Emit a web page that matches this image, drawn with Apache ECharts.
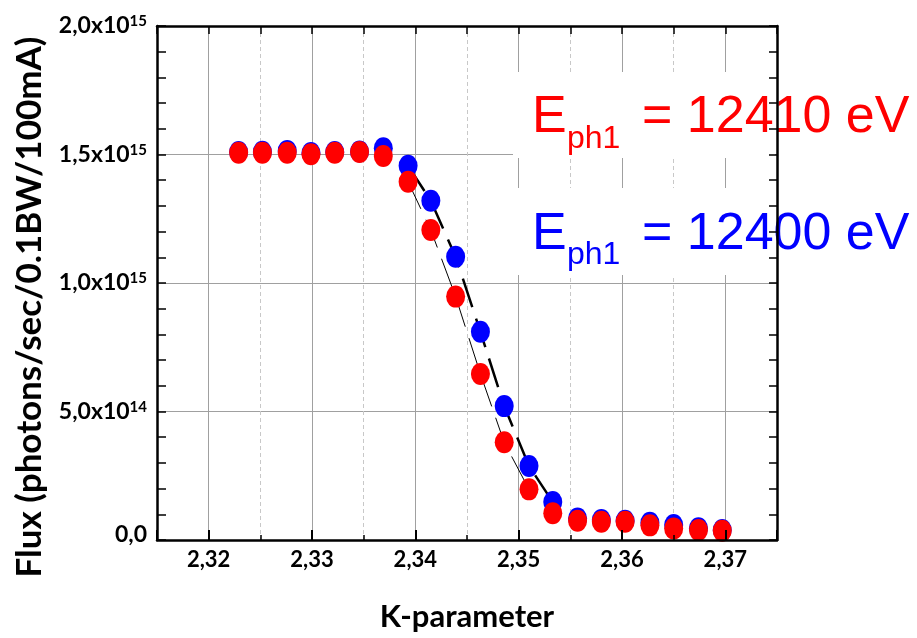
<!DOCTYPE html>
<html>
<head>
<meta charset="utf-8">
<title>Flux vs K-parameter</title>
<script src="https://cdn.jsdelivr.net/npm/echarts@6/dist/echarts.min.js"></script>
<style>
html, body { margin: 0; padding: 0; background: #fff; }
#chart { width: 917px; height: 638px; }
</style>
</head>
<body>
<div id="chart"></div>
<script>
// K-parameter of every measured point
var kParam = [2.3229, 2.3252, 2.3276, 2.3299, 2.3322, 2.3346, 2.3369, 2.3393, 2.3415, 2.3439, 2.3463,
              2.3486, 2.3510, 2.3533, 2.3557, 2.3580, 2.3603, 2.3627, 2.3650, 2.3674, 2.3697];
// E_ph1 = 12410 eV (red)
var fluxRed = [1.507e15, 1.507e15, 1.507e15, 1.501e15, 1.507e15, 1.510e15, 1.494e15, 1.394e15, 1.206e15, 0.947e15, 0.646e15,
               0.380e15, 0.197e15, 0.104e15, 0.075e15, 0.071e15, 0.071e15, 0.057e15, 0.045e15, 0.039e15, 0.036e15];
// E_ph1 = 12400 eV (blue)
var fluxBlue = [1.510e15, 1.511e15, 1.514e15, 1.506e15, 1.510e15, 1.512e15, 1.524e15, 1.456e15, 1.320e15, 1.102e15, 0.810e15,
                0.521e15, 0.288e15, 0.148e15, 0.084e15, 0.078e15, 0.075e15, 0.067e15, 0.058e15, 0.046e15, 0.039e15];
// the dashed guide lines only follow the falling edge
var fitStart = 7, fitEndRed = 12, fitEndBlue = 13;

var xTickValues = [2.32, 2.33, 2.34, 2.35, 2.36, 2.37];
var xTickLabels = ['2,32', '2,33', '2,34', '2,35', '2,36', '2,37'];
var yTickValues = [0, 5e14, 1e15, 1.5e15, 2e15];
var yTickMant = ['0,0', '5,0x10', '1,0x10', '1,5x10', '2,0x10'];
var yTickExp = ['', '14', '15', '15', '15'];

var X_MIN = 2.315, X_MAX = 2.375, Y_MAX = 2e15;
var BOLD = 'Lato';
var CLEAR = 'rgba(0,0,0,0)';

/**
 * zip x / y arrays into [x, y] pairs
 */
function pairs(xs, ys, from, to) {
    var out = [];
    for (var i = from; i <= to; i++) {
        out.push([xs[i], ys[i]]);
    }
    return out;
}

function tickIndex(list, v, eps) {
    for (var i = 0; i < list.length; i++) {
        if (Math.abs(list[i] - v) < eps) return i;
    }
    return -1;
}

var frameLine = { show: true, onZero: false, lineStyle: { color: '#000', width: 2.5 } };

var option = {
    animation: false,
    backgroundColor: '#fff',
    grid: { left: 157, top: 26, right: 140, bottom: 98, outerBoundsMode: 'none' },
    xAxis: [
        { // dashed grid every 0.005 (shown on the odd ones)
            type: 'value', min: X_MIN, max: X_MAX, interval: 0.005, z: 0,
            axisLine: { show: false }, axisTick: { show: false }, axisLabel: { show: false },
            splitLine: { show: true, lineStyle: { color: ['#c8c8c8', CLEAR], type: [4, 3], width: 1 } }
        },
        { // solid grid on the labelled values
            type: 'value', min: X_MIN, max: X_MAX, interval: 0.005, z: 0,
            axisLine: { show: false }, axisTick: { show: false }, axisLabel: { show: false },
            splitLine: { show: true, lineStyle: { color: [CLEAR, '#a0a0a0'], width: 1 } }
        },
        { // bottom frame, short ticks and labels
            type: 'value', position: 'bottom', min: X_MIN, max: X_MAX, interval: 0.005, z: 5,
            axisLine: frameLine,
            axisTick: { show: true, inside: true, length: 5, lineStyle: { color: '#000', width: 1.5 } },
            splitLine: { show: false },
            axisLabel: {
                margin: 9, color: '#000', fontFamily: BOLD, fontWeight: 'bold', fontSize: 22,
                formatter: function (v) {
                    var i = tickIndex(xTickValues, v, 1e-6);
                    return i < 0 ? '' : xTickLabels[i];
                }
            },
            name: 'K-parameter', nameLocation: 'middle', nameGap: 61,
            nameTextStyle: { color: '#000', fontFamily: BOLD, fontWeight: 'bold', fontSize: 31 }
        },
        { // bottom frame, long ticks (auto interval of 0.01)
            type: 'value', position: 'bottom', min: X_MIN, max: X_MAX, z: 5,
            axisLine: { show: false },
            axisTick: { show: true, inside: true, length: 10, lineStyle: { color: '#000', width: 2 } },
            axisLabel: { show: false }, splitLine: { show: false }
        },
        { // top frame
            type: 'value', position: 'top', min: X_MIN, max: X_MAX, interval: 0.005, z: 5,
            axisLine: frameLine,
            axisTick: { show: true, inside: true, length: 8, lineStyle: { color: '#000', width: 1.5 } },
            axisLabel: { show: false }, splitLine: { show: false }
        }
    ],
    yAxis: [
        { // horizontal grid
            type: 'value', min: 0, max: Y_MAX, interval: 5e14, z: 0,
            axisLine: { show: false }, axisTick: { show: false }, axisLabel: { show: false },
            splitLine: { show: true, lineStyle: { color: '#a0a0a0', width: 1 } }
        },
        { // left frame
            type: 'value', position: 'left', min: 0, max: Y_MAX, interval: 1e14, z: 5,
            axisLine: frameLine,
            axisTick: { show: true, inside: true, length: 9, lineStyle: { color: '#000', width: 1.5 } },
            splitLine: { show: false },
            axisLabel: {
                margin: 10, color: '#000',
                formatter: function (v) {
                    var i = tickIndex(yTickValues, v, 1e10);
                    if (i < 0) return '';
                    if (!yTickExp[i]) return '{z|' + yTickMant[i] + '}';
                    return '{m|' + yTickMant[i] + '}{s|' + yTickExp[i] + '}';
                },
                rich: {
                    m: { fontFamily: BOLD, fontWeight: 'bold', fontSize: 23, lineHeight: 24, padding: [5, 0, 5, 0], color: '#000' },
                    z: { fontFamily: BOLD, fontWeight: 'bold', fontSize: 23, lineHeight: 24, padding: [0, 0, 10, 0], color: '#000' },
                    s: { fontFamily: BOLD, fontWeight: 'bold', fontSize: 15, lineHeight: 15, verticalAlign: 'top', color: '#000' }
                }
            },
            name: 'Flux (photons/sec/0.1BW/100mA)', nameLocation: 'middle', nameGap: 110, nameRotate: 90,
            nameTextStyle: { color: '#000', fontFamily: BOLD, fontWeight: 'bold', fontSize: 35, padding: [0, 48, 0, 0] }
        },
        { // right frame
            type: 'value', position: 'right', min: 0, max: Y_MAX, interval: 1e14, z: 5,
            axisLine: frameLine,
            axisTick: { show: true, inside: true, length: 8, lineStyle: { color: '#000', width: 1.5 } },
            axisLabel: { show: false }, splitLine: { show: false }
        }
    ],
    graphic: [
        // white boxes behind the two labels, they hide the grid
        { type: 'rect', z: 1, shape: { x: 513, y: 72, width: 262, height: 86 }, style: { fill: '#fff' } },
        { type: 'rect', z: 1, shape: { x: 513, y: 188, width: 262, height: 87 }, style: { fill: '#fff' } },
        { type: 'text', z: 1, x: 532, y: 118, style: { text: 'E', fill: '#ff0000', font: '52px "Liberation Sans"', verticalAlign: 'middle' } },
        { type: 'text', z: 1, x: 567, y: 139, style: { text: 'ph1', fill: '#ff0000', font: '32px "Liberation Sans"', verticalAlign: 'middle' } },
        { type: 'text', z: 1, x: 642, y: 118, style: { text: '= 12410 eV', fill: '#ff0000', font: '52px "Liberation Sans"', verticalAlign: 'middle' } },
        { type: 'text', z: 1, x: 532, y: 235, style: { text: 'E', fill: '#0000ff', font: '52px "Liberation Sans"', verticalAlign: 'middle' } },
        { type: 'text', z: 1, x: 567, y: 255, style: { text: 'ph1', fill: '#0000ff', font: '32px "Liberation Sans"', verticalAlign: 'middle' } },
        { type: 'text', z: 1, x: 642, y: 235, style: { text: '= 12400 eV', fill: '#0000ff', font: '52px "Liberation Sans"', verticalAlign: 'middle' } }
    ],
    series: [
        {
            name: 'fit 12410', type: 'line', xAxisIndex: 2, yAxisIndex: 1, z: 2,
            data: pairs(kParam, fluxRed, fitStart, fitEndRed),
            symbol: 'none', lineStyle: { color: '#000', width: 1, type: [30, 12] }
        },
        {
            name: 'fit 12400', type: 'line', xAxisIndex: 2, yAxisIndex: 1, z: 2,
            data: pairs(kParam, fluxBlue, fitStart, fitEndBlue),
            symbol: 'none', lineStyle: { color: '#000', width: 2.5, type: [30, 12] }
        },
        {
            name: 'E_ph1 = 12400 eV', type: 'scatter', xAxisIndex: 2, yAxisIndex: 1, z: 3,
            data: pairs(kParam, fluxBlue, 0, kParam.length - 1),
            symbol: 'circle', symbolSize: [19, 22], itemStyle: { color: '#0000ff', opacity: 1 }
        },
        {
            name: 'E_ph1 = 12410 eV', type: 'scatter', xAxisIndex: 2, yAxisIndex: 1, z: 4,
            data: pairs(kParam, fluxRed, 0, kParam.length - 1),
            symbol: 'circle', symbolSize: [19, 22], itemStyle: { color: '#ff0000', opacity: 1 }
        }
    ]
};

var chart = echarts.init(document.getElementById('chart'), null, { renderer: 'canvas' });
chart.setOption(option);
</script>
</body>
</html>
